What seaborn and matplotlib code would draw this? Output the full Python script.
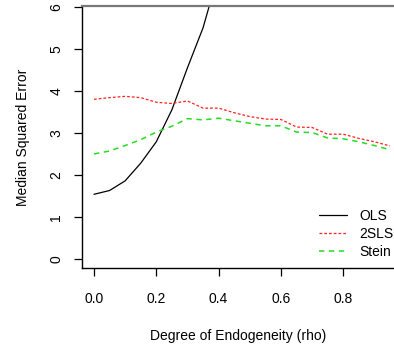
import numpy as np
import pandas as pd
import matplotlib
matplotlib.use("Agg")
import matplotlib.pyplot as plt
import seaborn as sns

rho = [0.00, 0.05, 0.10, 0.15, 0.20, 0.25, 0.30, 0.35, 0.40, 0.45,
       0.50, 0.55, 0.60, 0.65, 0.70, 0.75, 0.80, 0.85, 0.90, 0.95]
ols = [1.54, 1.63, 1.86, 2.28, 2.79, 3.55, 4.55, 5.50, 6.80, 8.20,
       9.80, 11.5, 13.4, 15.4, 17.6, 20.0, 22.5, 25.2, 28.0, 31.0]
tsls = [3.80, 3.84, 3.87, 3.84, 3.73, 3.70, 3.76, 3.59, 3.59, 3.48,
        3.39, 3.33, 3.32, 3.14, 3.13, 2.97, 2.97, 2.87, 2.79, 2.69]
stein = [2.50, 2.57, 2.70, 2.84, 3.02, 3.16, 3.34, 3.31, 3.35, 3.29,
         3.23, 3.17, 3.17, 3.02, 3.01, 2.88, 2.86, 2.79, 2.70, 2.60]

series = ["OLS", "2SLS", "Stein"]
df = pd.DataFrame({
    "rho": rho * 3,
    "mse": ols + tsls + stein,
    "method": [s for s in series for _ in rho],
})

sns.set_style("white")
plt.rcParams["font.family"] = ["Liberation Sans", "DejaVu Sans"]
plt.rcParams["text.color"] = "black"
plt.rcParams["axes.labelcolor"] = "black"

fig = plt.figure(figsize=(3.94, 3.47), dpi=100)
ax = fig.add_axes([82 / 394, 79 / 347, 312 / 394, 262 / 347])

styles = {"OLS": (None, "black", 0.9),
          "2SLS": ((0, (2.2, 1.6)), "#ff2020", 0.9),
          "Stein": ((0, (3.5, 3.0)), "#22dd22", 1.1)}
for m in series:
    ls, col, lw = styles[m]
    sub = df[df["method"] == m]
    sns.lineplot(data=sub, x="rho", y="mse", ax=ax, color=col,
                 lw=lw, label=m)
    if ls is not None:
        ax.lines[-1].set_linestyle(ls)

ax.set_xlim(-0.0385, 0.963)
ax.set_ylim(-0.214, 6.02)
ax.set_xticks([0.0, 0.2, 0.4, 0.6, 0.8])
ax.set_xticklabels(["0.0", "0.2", "0.4", "0.6", "0.8"])
ax.set_yticks([0, 1, 2, 3, 4, 5, 6])
ax.set_yticklabels(["0", "1", "2", "3", "4", "5", "6"])
ax.tick_params(axis="both", direction="out", length=6, width=0.9,
               color="black", labelcolor="black", labelsize=10,
               left=True, bottom=True)
ax.tick_params(axis="x", pad=11)
ax.tick_params(axis="y", pad=7.5, labelrotation=90)
for t in ax.get_yticklabels():
    t.set_va("center")

for s in ["left", "bottom"]:
    ax.spines[s].set_color("black")
    ax.spines[s].set_linewidth(1.0)
ax.spines["top"].set_color("#777777")
ax.spines["top"].set_linewidth(1.6)
ax.spines["right"].set_visible(False)

ax.set_xlabel("Degree of Endogeneity (rho)", fontsize=10, labelpad=17)
ax.set_ylabel("Median Squared Error", fontsize=10, labelpad=14)

ax.legend(loc="lower right", bbox_to_anchor=(1.025, 0.003), frameon=False,
          fontsize=10, handlelength=2.0, handletextpad=0.9, labelspacing=0.3,
          borderaxespad=0.2)

fig.savefig("out.png", dpi=100)
